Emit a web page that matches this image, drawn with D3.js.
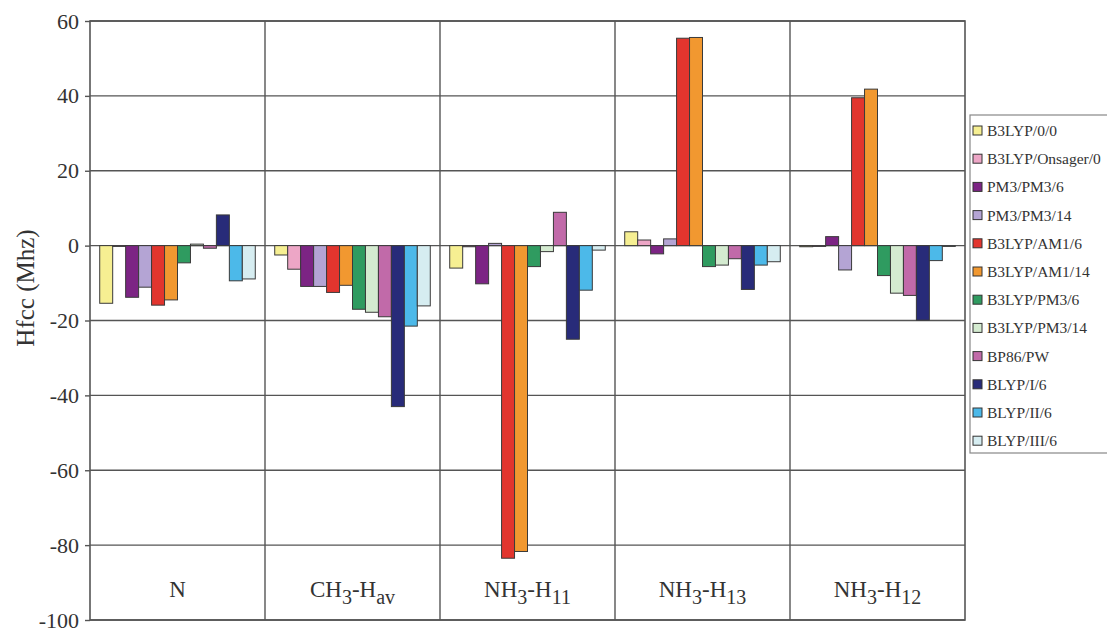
<!DOCTYPE html>
<meta charset="utf-8">
<style>
body { margin: 0; background: #fff; }
text { font-family: 'Liberation Serif', 'Times New Roman', serif; fill: #333; }
</style>
<div id="chart"></div>
<script src="https://cdn.jsdelivr.net/npm/d3@7"></script>
<script>
// category labels split into [text, 'sub' or ''] parts
var categories = ['N', 'CH3-Hav', 'NH3-H11', 'NH3-H13', 'NH3-H12']
var categoryParts = [
  [['N', '']],
  [['CH', ''], ['3', 'sub'], ['-H', ''], ['av', 'sub']],
  [['NH', ''], ['3', 'sub'], ['-H', ''], ['11', 'sub']],
  [['NH', ''], ['3', 'sub'], ['-H', ''], ['13', 'sub']],
  [['NH', ''], ['3', 'sub'], ['-H', ''], ['12', 'sub']]
]

var methods = ['B3LYP/0/0', 'B3LYP/Onsager/0', 'PM3/PM3/6', 'PM3/PM3/14', 'B3LYP/AM1/6',
  'B3LYP/AM1/14', 'B3LYP/PM3/6', 'B3LYP/PM3/14', 'BP86/PW', 'BLYP/I/6', 'BLYP/II/6', 'BLYP/III/6']

var colors = ['#f6ef92', '#eda6c6', '#7c2484', '#b4a4d4', '#e2352e', '#f19830',
  '#2f9b60', '#d4ebd0', '#c16aa9', '#282b79', '#4cb9e9', '#d6edf1']

// values per method, one per category (N, CH3-Hav, NH3-H11, NH3-H13, NH3-H12)
var b3lyp00      = [-15.4,  -2.5,  -6.0,  3.7, -0.3]
var b3lypOnsager = [  0.0,  -6.3,  -0.3,  1.5, -0.2]
var pm3pm3_6     = [-13.8, -10.9, -10.2, -2.2,  2.4]
var pm3pm3_14    = [-11.1, -10.9,   0.6,  1.8, -6.5]
var b3lypAm1_6   = [-15.9, -12.5, -83.5, 55.4, 39.5]
var b3lypAm1_14  = [-14.5, -10.6, -81.7, 55.6, 41.8]
var b3lypPm3_6   = [ -4.6, -17.0,  -5.6, -5.6, -8.0]
var b3lypPm3_14  = [  0.4, -17.8,  -1.6, -5.2, -12.7]
var bp86pw       = [ -0.7, -19.0,   8.9, -3.5, -13.3]
var blypI6       = [  8.2, -43.0, -25.0, -11.7, -19.9]
var blypII6      = [ -9.4, -21.5, -11.9, -5.2, -4.0]
var blypIII6     = [ -8.9, -16.1,  -1.2, -4.3, -0.1]

var series = [b3lyp00, b3lypOnsager, pm3pm3_6, pm3pm3_14, b3lypAm1_6, b3lypAm1_14,
  b3lypPm3_6, b3lypPm3_14, bp86pw, blypI6, blypII6, blypIII6]

var yTicks = [60, 40, 20, 0, -20, -40, -60, -80, -100]

var W = 1107, H = 630
var margin = { top: 21, left: 90, right: 142, bottom: 10 }
var width = W - margin.left - margin.right
var height = 620 - margin.top

var svg = d3.select('#chart').append('svg')
  .attr('width', W).attr('height', H)

var g = svg.append('g')
  .attr('transform', 'translate(' + margin.left + ',' + margin.top + ')')

var x0 = d3.scaleBand().domain(d3.range(categories.length)).range([0, width])
var x1 = d3.scaleBand().domain(d3.range(methods.length))
  .range([0, x0.bandwidth()]).paddingOuter(0.75)
var y = d3.scaleLinear().domain([-100, 60]).range([height, 0])

// gridlines
g.append('g').selectAll('line').data(yTicks).join('line')
  .attr('x1', 0).attr('x2', width)
  .attr('y1', d => y(d)).attr('y2', d => y(d))
  .attr('stroke', '#555').attr('stroke-width', 1.4)

// group dividers
g.append('g').selectAll('line').data(d3.range(1, categories.length)).join('line')
  .attr('x1', d => x0(d)).attr('x2', d => x0(d))
  .attr('y1', 0).attr('y2', height)
  .attr('stroke', '#555').attr('stroke-width', 1.4)

// bars
var groups = g.append('g').selectAll('g').data(categories).join('g')
  .attr('transform', (d, i) => 'translate(' + x0(i) + ',0)')

groups.selectAll('rect')
  .data((d, ci) => series.map((s, mi) => ({ m: mi, v: s[ci] })))
  .join('rect')
  .attr('x', d => x1(d.m))
  .attr('width', x1.bandwidth())
  .attr('y', d => y(Math.max(0, d.v)))
  .attr('height', d => Math.max(0.8, Math.abs(y(d.v) - y(0))))
  .attr('fill', d => colors[d.m])
  .attr('stroke', '#3a3a3a')
  .attr('stroke-width', 1)

// frame
g.append('rect').attr('width', width).attr('height', height)
  .attr('fill', 'none').attr('stroke', '#555').attr('stroke-width', 1.6)

// y axis
var yAxis = d3.axisLeft(y).tickValues(yTicks).tickSize(5).tickPadding(6)
  .tickFormat(d => String(d))
var ya = g.append('g').call(yAxis)
ya.select('.domain').remove()
ya.selectAll('line').attr('stroke', '#555').attr('stroke-width', 1.4)
ya.selectAll('text').attr('font-size', 22).attr('fill', '#333')
  .style('font-family', "'Liberation Serif', serif")

svg.append('text')
  .attr('transform', 'translate(34,288) rotate(-90)')
  .attr('text-anchor', 'middle')
  .attr('font-size', 25)
  .text('Hfcc (Mhz)')

// category labels
groups.append('text')
  .attr('x', x0.bandwidth() / 2)
  .attr('y', height - 16)
  .attr('text-anchor', 'middle')
  .attr('font-size', 23)
  .each(function (d, i) {
    var t = d3.select(this)
    categoryParts[i].forEach(p => {
      t.append('tspan')
        .attr('font-size', p[1] === 'sub' ? 20 : 23)
        .attr('dy', p[1] === 'sub' ? 7 : (t.selectAll('tspan').size() > 0 ? -7 : 0))
        .text(p[0])
    })
  })

// legend
var lg = svg.append('g').attr('transform', 'translate(970,115)')
lg.append('rect').attr('width', 150).attr('height', 338)
  .attr('fill', '#fff').attr('stroke', '#888').attr('stroke-width', 1.2)

var items = lg.selectAll('g.item').data(methods).join('g')
  .attr('class', 'item')
  .attr('transform', (d, i) => 'translate(0,' + (16 + i * 28.2) + ')')

items.append('rect')
  .attr('x', 3).attr('y', -5).attr('width', 9).attr('height', 9)
  .attr('fill', (d, i) => colors[i]).attr('stroke', '#333').attr('stroke-width', 1)

items.append('text')
  .attr('x', 17).attr('y', 5)
  .attr('font-size', 15.5)
  .text(d => d)
</script>
